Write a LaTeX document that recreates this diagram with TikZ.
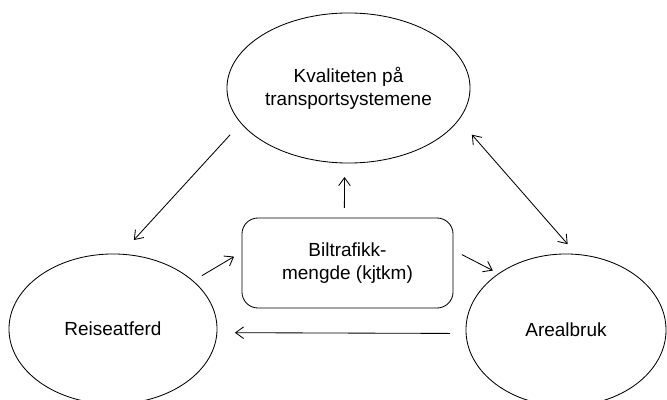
\documentclass[tikz,border=0pt]{standalone}
\usepackage{fontspec}
\setmainfont{Liberation Sans}
\usetikzlibrary{shapes.geometric, arrows.meta}
\tikzset{
  >={Straight Barb[length=2mm, width=2.9mm]},
  every node/.style={font=\fontsize{13.5}{16.5}\selectfont, align=center, inner sep=0pt, outer sep=0pt},
  factor/.style={draw, ellipse, line width=0.6pt},
  measure/.style={draw, rectangle, rounded corners=0.4cm, line width=0.6pt,
    minimum width=5.275cm, minimum height=2.25cm},
  link/.style={->, line width=0.6pt},
}

\begin{document}
\begin{tikzpicture}[x=0.025cm, y=-0.025cm]
        \useasboundingbox (0,0) rectangle (667,400);

        % factors
        \node[factor, minimum width=6.075cm, minimum height=3.75cm] (kval) at (348.5,88) {Kvaliteten på\\transportsystemene};
        \node[factor, minimum width=5.2cm, minimum height=3.75cm] (reise) at (113,329) {Reiseatferd};
        \node[factor, minimum width=5cm, minimum height=3.8cm] (areal) at (566,330) {Arealbruk};
        \node[measure] (biltr) at (347.5,263) {Biltrafikk-\\mengde (kjtkm)};

        % relations
        \draw[link, shorten <=0.4cm, shorten >=0.48cm] (kval.198) -- (reise.84);
        \draw[link, shorten <=0.25cm, shorten >=0.35cm] (biltr.94) -- (kval.267);
        \draw[link, shorten <=0.26cm, shorten >=0.23cm] (reise.31) -- (biltr.174);
        \draw[link, shorten <=0.25cm, shorten >=0.17cm] (biltr.7) -- (areal.140);
        \draw[link, <->, shorten <=0.5cm, shorten >=0.34cm] (kval.344) -- (areal.82);
        \draw[link, shorten <=0.4cm, shorten >=0.45cm] (areal.182) -- (reise.358);
      \end{tikzpicture}
\end{document}
